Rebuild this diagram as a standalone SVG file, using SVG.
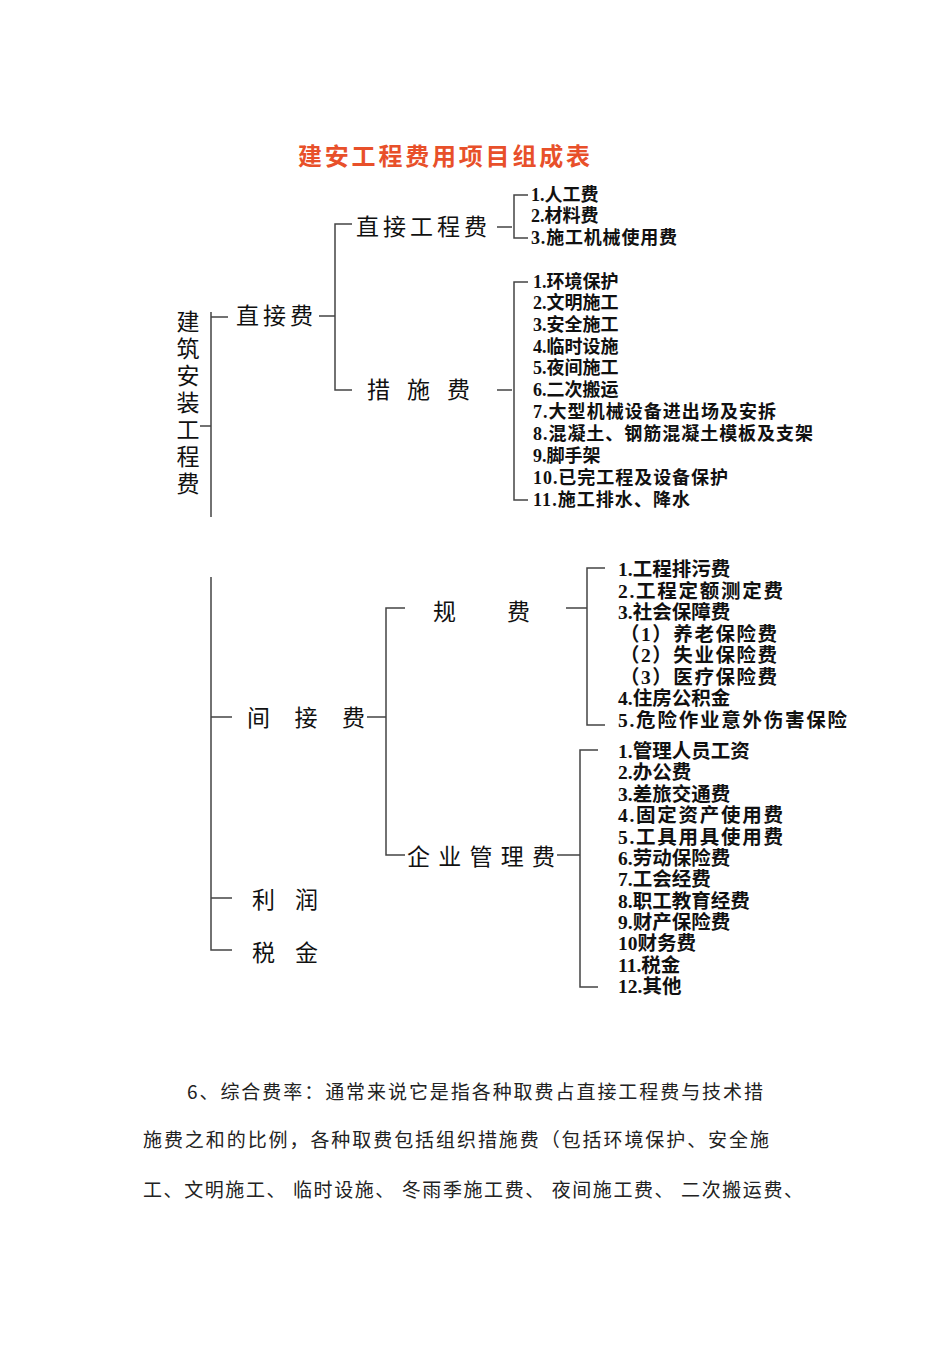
<svg xmlns="http://www.w3.org/2000/svg" width="950" height="1345" viewBox="0 0 950 1345">
<style>
text{font-family:"Liberation Serif","Noto Sans CJK SC",serif;dominant-baseline:central;fill:#111}
.t{font-size:24px;font-weight:bold;fill:#e8502a}
.n{font-size:23px}
.i{font-size:18px;font-weight:bold}
.j{font-size:19.5px;font-weight:bold}
.p{font-family:"Noto Sans CJK SC",sans-serif;font-size:19px;dominant-baseline:auto;fill:#222}
.c path{fill:none;stroke:#444;stroke-width:1.5}
</style>
<rect width="950" height="1345" fill="#fff"/>
<text class="t" x="298" y="157" textLength="292">建安工程费用项目组成表</text>
<g class="c" id="connectors">
<path d="M200 426H211M211 312V517M211 317H228"/>
<path d="M319 316H335M352 224H335V390H352"/>
<path d="M497 227H512M528 195H514V238H528"/>
<path d="M497 390H512M528 282H514V500H528"/>
<path d="M211 577V950H232M211 717H232M211 898H232"/>
<path d="M367 717H386M405 608H386V855H405"/>
<path d="M566 608H587M605 568H587V725H605"/>
<path d="M557 855H580M598 750H580V987H598"/>
</g>
<g id="root"><text class="n" x="188" y="322" text-anchor="middle">建</text><text class="n" x="188" y="349" text-anchor="middle">筑</text><text class="n" x="188" y="376" text-anchor="middle">安</text><text class="n" x="188" y="403" text-anchor="middle">装</text><text class="n" x="188" y="430" text-anchor="middle">工</text><text class="n" x="188" y="457" text-anchor="middle">程</text><text class="n" x="188" y="484" text-anchor="middle">费</text></g>
<g id="zjf"><text class="n" x="236" y="316" textLength="77">直接费</text></g>
<g id="zjgcf"><text class="n" x="356" y="227" textLength="131">直接工程费</text></g>
<g id="csf"><text class="n" x="367" y="390" textLength="103">措 施 费</text></g>
<g id="zjgcf-items">
<text class="i" x="531" y="195">1.人工费</text><text class="i" x="531" y="216">2.材料费</text><text class="i" x="531" y="238" textLength="146">3.施工机械使用费</text>
</g>
<g id="csf-items">
<text class="i" x="533" y="282">1.环境保护</text><text class="i" x="533" y="303">2.文明施工</text><text class="i" x="533" y="325">3.安全施工</text><text class="i" x="533" y="347">4.临时设施</text><text class="i" x="533" y="368">5.夜间施工</text><text class="i" x="533" y="390">6.二次搬运</text><text class="i" x="533" y="412" textLength="243">7.大型机械设备进出场及安拆</text><text class="i" x="533" y="434" textLength="280">8.混凝土、钢筋混凝土模板及支架</text><text class="i" x="533" y="456">9.脚手架</text><text class="i" x="533" y="478" textLength="195">10.已完工程及设备保护</text><text class="i" x="533" y="500" textLength="157">11.施工排水、降水</text>
</g>
<g id="jjf"><text class="n" x="247" y="718" textLength="118">间 接 费</text></g>
<g id="gf"><text class="n" x="433" y="612" textLength="97">规    费</text></g>
<g id="qyglf"><text class="n" x="407" y="857" textLength="148">企业管理费</text></g>
<g id="lr"><text class="n" x="252" y="900" textLength="66">利 润</text></g>
<g id="sj"><text class="n" x="252" y="953" textLength="66">税 金</text></g>
<g id="gf-items">
<text class="j" x="618" y="569">1.工程排污费</text><text class="j" x="618" y="591" textLength="165">2.工程定额测定费</text><text class="j" x="618" y="612">3.社会保障费</text><text class="j" x="620" y="634" textLength="157">（1）养老保险费</text><text class="j" x="620" y="655" textLength="157">（2）失业保险费</text><text class="j" x="620" y="677" textLength="157">（3）医疗保险费</text><text class="j" x="618" y="698">4.住房公积金</text><text class="j" x="618" y="720" textLength="229">5.危险作业意外伤害保险</text>
</g>
<g id="qyglf-items">
<text class="j" x="618" y="751">1.管理人员工资</text><text class="j" x="618" y="772">2.办公费</text><text class="j" x="618" y="794">3.差旅交通费</text><text class="j" x="618" y="815" textLength="165">4.固定资产使用费</text><text class="j" x="618" y="837" textLength="165">5.工具用具使用费</text><text class="j" x="618" y="858">6.劳动保险费</text><text class="j" x="618" y="879">7.工会经费</text><text class="j" x="618" y="901">8.职工教育经费</text><text class="j" x="618" y="922">9.财产保险费</text><text class="j" x="618" y="943">10财务费</text><text class="j" x="618" y="965">11.税金</text><text class="j" x="618" y="986">12.其他</text>
</g>
<text class="p" x="187" y="1099" textLength="576">6、综合费率：通常来说它是指各种取费占直接工程费与技术措</text>
<text class="p" x="143" y="1147" textLength="626">施费之和的比例，各种取费包括组织措施费（包括环境保护、安全施</text>
<text class="p" x="143" y="1197" textLength="660">工、文明施工、 临时设施、 冬雨季施工费、 夜间施工费、 二次搬运费、</text>
</svg>
